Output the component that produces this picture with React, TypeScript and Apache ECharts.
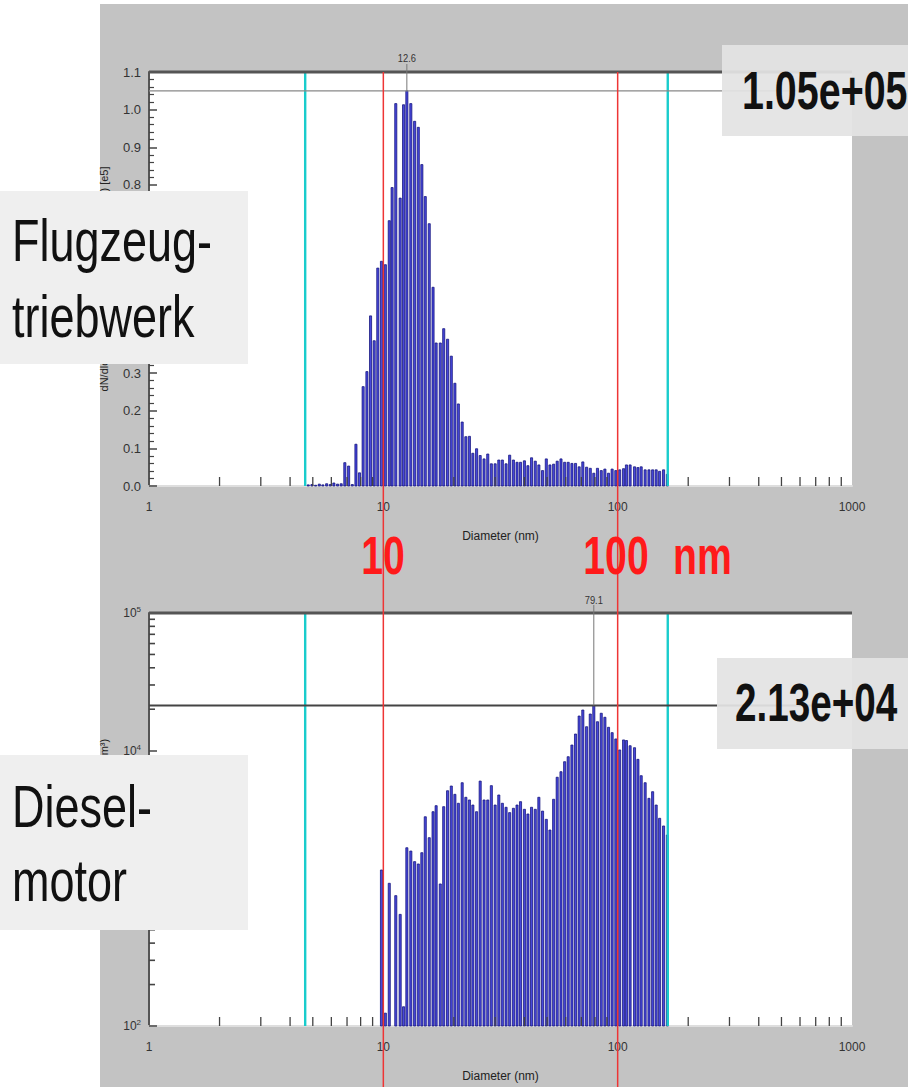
import React, { useEffect, useRef } from 'react';
import * as echarts from 'echarts';

// Size channel midpoints (nm), 64 channels per decade, channels 43..141
const DIAMETERS = [
  4.78, 4.96, 5.14, 5.33, 5.52, 5.73, 5.94, 6.15, 6.38, 6.61, 6.85, 7.11, 7.37, 7.64, 7.91, 8.2, 8.51, 8.82, 9.14, 9.47, 9.82,
  10.2, 10.6, 10.9, 11.3, 11.8, 12.2, 12.6, 13.1, 13.6, 14.1, 14.6, 15.1, 15.7, 16.3, 16.8, 17.5, 18.1, 18.8, 19.5, 20.2,
  20.9, 21.7, 22.5, 23.3, 24.1, 25.0, 25.9, 26.9, 27.9, 28.9, 30.0, 31.1, 32.2, 33.4, 34.6, 35.9, 37.2, 38.5, 40.0, 41.4,
  42.9, 44.5, 46.1, 47.8, 49.6, 51.4, 53.3, 55.2, 57.3, 59.4, 61.5, 63.8, 66.1, 68.5, 71.0, 73.7, 76.4, 79.1, 82.0, 85.1,
  88.2, 91.4, 94.7, 98.2, 102, 106, 109, 113, 118, 122, 126, 131, 136, 141, 146, 151, 157, 163,
];

// Aircraft engine (Flugzeugtriebwerk), dN/dlogDp in units of 1e5, channels 43..141
const TOP_VALUES = [
  0.003, 0.004, 0.002, 0.005, 0.003, 0.006, 0.004, 0.008, 0.005, 0.006,
  0.062, 0.053, 0.004, 0.111, 0.035, 0.264, 0.304, 0.452, 0.386, 0.579,
  0.597, 0.588, 0.705, 0.793, 1.016, 0.765, 1.013, 1.05, 1.016, 0.969,
  0.953, 0.854, 0.769, 0.697, 0.528, 0.38, 0.38, 0.418, 0.39, 0.345,
  0.273, 0.218, 0.17, 0.131, 0.132, 0.087, 0.099, 0.081, 0.072, 0.085,
  0.059, 0.059, 0.069, 0.069, 0.059, 0.082, 0.069, 0.063, 0.063, 0.067,
  0.054, 0.075, 0.066, 0.056, 0.041, 0.072, 0.056, 0.058, 0.066, 0.072,
  0.063, 0.063, 0.06, 0.06, 0.051, 0.064, 0.05, 0.047, 0.034, 0.047,
  0.041, 0.045, 0.034, 0.045, 0.041, 0.043, 0.046, 0.056, 0.056, 0.051,
  0.049, 0.051, 0.043, 0.043, 0.043, 0.043, 0.039, 0.043, 0.031,
];

// Diesel engine (Dieselmotor), dN/dlogDp (#/cm3), channels 63..141
const BOTTOM_START = 20; // index into DIAMETERS (channel 63)
const BOTTOM_VALUES = [
  1359, 124, 1088, null, 885, 647, 138,
  1972, 1866, 1563, 1503, 1815, 3311, 2333, 3603, 3985, 1076,
  3919, 5117, 5535, 4818, 4148, 5851, 4585, 4383, 4029, 3603,
  6013, 4383, 4383, 5570, 4029, 4765, 4148, 3880, 3548, 3814,
  4029, 4262, 3750, 3467, 3880, 3750, 4585, 3640, 3170, 2652,
  4435, 6411, 7035, 8315, 9040, 10990, 13210, 17850, 19740, 14930,
  18460, 21300, 16230, 18700, 17480, 14780, 13520, 12170, 10120, 11970,
  11850, 10860, 10510, 8650, 6580, 5851, 4505, 5035, 4029, 3226,
  2838, 2440,
];

const TOP_PEAK = [12.6, 1.05];
const BOTTOM_PEAK = [79.1, 21300];
const TOP_PEAK_LABEL = '1.05e+05';
const BOTTOM_PEAK_LABEL = '2.13e+04';
const CUTOFF_LINES = [4.64, 163.6];
const RED_LINES = [10, 100];
const MINOR_X = [2, 3, 4, 5, 6, 7, 8, 9, 20, 30, 40, 50, 60, 70, 80, 90, 200, 300, 400, 500, 600, 700, 800, 900];
const MINOR_Y_LOG = [200, 300, 400, 500, 600, 700, 800, 900, 2000, 3000, 4000, 5000, 6000, 7000, 8000, 9000, 20000, 30000, 40000, 50000, 60000, 70000, 80000, 90000];

const FONT = "'Liberation Sans', Arial, Helvetica, sans-serif";

export default function App() {
  const ref = useRef<HTMLDivElement>(null);

  useEffect(() => {
    const chart = echarts.init(ref.current as HTMLDivElement, null, { renderer: 'svg' });

    const barRender = (yBase: number) => (params: any, api: any) => {
      const x = api.value(0);
      const v = api.value(1);
      const top = api.coord([x, v]);
      const base = api.coord([x, yBase]);
      return {
        type: 'rect',
        shape: { x: top[0] - 1.05, y: top[1], width: 2.1, height: Math.max(base[1] - top[1], 0.8) },
        style: { fill: '#4848dc', stroke: '#10107a', lineWidth: 0.75 },
      };
    };

    const xTickRender = (yBase: number) => (params: any, api: any) => {
      const p = api.coord([api.value(0), yBase]);
      return {
        type: 'line',
        shape: { x1: p[0], y1: p[1], x2: p[0], y2: p[1] - 9 },
        style: { stroke: '#444', lineWidth: 1.3 },
      };
    };

    const yLogTickRender = (params: any, api: any) => {
      const cs = params.coordSys;
      const p = api.coord([1, api.value(1)]);
      return {
        type: 'line',
        shape: { x1: cs.x, y1: p[1], x2: cs.x + 6, y2: p[1] },
        style: { stroke: '#444', lineWidth: 1.6 },
      };
    };

    const vLineRender = (color: string, width: number, toBottom?: number) => (params: any, api: any) => {
      const cs = params.coordSys;
      const p = api.coord([api.value(0), api.value(1)]);
      return {
        type: 'line',
        shape: { x1: p[0], y1: cs.y, x2: p[0], y2: toBottom !== undefined ? toBottom : cs.y + cs.height },
        style: { stroke: color, lineWidth: width },
      };
    };

    const peakRender = (hColor: string, hWidth: number, labelGap: number) => (params: any, api: any) => {
      const cs = params.coordSys;
      const d = api.value(0);
      const v = api.value(1);
      const p = api.coord([d, v]);
      return {
        type: 'group',
        children: [
          { type: 'line', shape: { x1: cs.x, y1: cs.y, x2: cs.x + cs.width, y2: cs.y }, style: { stroke: '#555', lineWidth: 3.2 } },
          { type: 'line', shape: { x1: cs.x, y1: p[1], x2: cs.x + cs.width, y2: p[1] }, style: { stroke: hColor, lineWidth: hWidth } },
          { type: 'line', shape: { x1: p[0], y1: cs.y - 8, x2: p[0], y2: p[1] }, style: { stroke: '#777', lineWidth: 1 } },
          {
            type: 'text', x: p[0], y: cs.y - labelGap, scaleX: 0.85,
            style: { text: d.toFixed(1), fill: '#333', font: `11px ${FONT}`, align: 'center', textAlign: 'center', verticalAlign: 'middle', textVerticalAlign: 'middle' },
          },
        ],
      };
    };

    const topBars = DIAMETERS.map((d, k) => [d, TOP_VALUES[k]]);
    const bottomBars = BOTTOM_VALUES.map((v, k) => [DIAMETERS[BOTTOM_START + k], v]).filter((p) => p[1] !== null);

    const yName = (text: string) => ({
      name: text,
      nameLocation: 'middle',
      nameGap: 40,
      nameRotate: 90,
      nameTextStyle: { fontSize: 11, color: '#222', fontFamily: FONT },
    });

    const xAxisCommon = (gridIndex: number) => ({
      type: 'log',
      gridIndex,
      logBase: 10,
      min: 1,
      max: 1000,
      name: 'Diameter (nm)',
      nameLocation: 'middle',
      nameGap: 44,
      nameTextStyle: { fontSize: 12, color: '#222', fontFamily: FONT },
      axisLine: { show: true, lineStyle: { color: '#dedede', width: 2 } },
      axisTick: { show: false },
      splitLine: { show: false },
      minorTick: { show: false },
      axisLabel: { fontSize: 12, color: '#333', margin: 15, fontFamily: FONT, formatter: (v: number) => String(Math.round(v)) },
    });

    const textEl = (text: string, x: number, y: number, size: number, opts: any = {}) => ({
      type: 'text',
      x,
      y,
      z: 110,
      scaleX: opts.scaleX ?? 0.75,
      style: {
        text,
        fill: opts.fill ?? '#111',
        font: `${opts.bold ? 'bold ' : ''}${size}px ${FONT}`,
        align: opts.align ?? 'left',
        textAlign: opts.align ?? 'left',
        verticalAlign: 'middle',
        textVerticalAlign: 'middle',
      },
    });

    const option: any = {
      animation: false,
      backgroundColor: 'transparent',
      grid: [
        { left: 149, top: 72, width: 703, height: 414, show: true, backgroundColor: '#ffffff', borderWidth: 0 },
        { left: 149, top: 613, width: 703, height: 413, show: true, backgroundColor: '#ffffff', borderWidth: 0 },
      ],
      xAxis: [xAxisCommon(0), xAxisCommon(1)],
      yAxis: [
        {
          type: 'value',
          gridIndex: 0,
          min: 0,
          max: 1.1,
          interval: 0.1,
          ...yName('dN/dlogDp Number Concentration (#/cm³) [e5]'),
          axisLine: { show: true, lineStyle: { color: '#555', width: 2 } },
          axisTick: { show: true, inside: true, length: 8, lineStyle: { color: '#444', width: 1.5 } },
          minorTick: { show: true, splitNumber: 5, length: 5, lineStyle: { color: '#444', width: 1.2 } },
          splitLine: { show: false },
          axisLabel: { fontSize: 13, color: '#333', margin: 8, fontFamily: FONT, formatter: (v: number) => v.toFixed(1) },
        },
        {
          type: 'log',
          gridIndex: 1,
          logBase: 10,
          min: 100,
          max: 100000,
          ...yName('dN/dlogDp Concentration (#/cm³)'),
          axisLine: { show: true, lineStyle: { color: '#555', width: 2 } },
          axisTick: { show: true, inside: true, length: 8, lineStyle: { color: '#444', width: 1.5 } },
          splitLine: { show: false },
          axisLabel: {
            margin: 8,
            formatter: (v: number) => `{b|10}{s|${Math.round(Math.log10(v))}}`,
            rich: {
              b: { fontSize: 12, color: '#333', fontFamily: FONT },
              s: { fontSize: 8, color: '#333', fontFamily: FONT, padding: [0, 0, 7, 0] },
            },
          },
        },
      ],
      series: [
        { type: 'custom', xAxisIndex: 0, yAxisIndex: 0, z: 2, renderItem: barRender(0), data: topBars },
        { type: 'custom', xAxisIndex: 1, yAxisIndex: 1, z: 2, renderItem: barRender(100), data: bottomBars },
        { type: 'custom', xAxisIndex: 0, yAxisIndex: 0, z: 3, renderItem: vLineRender('#19cccc', 2.4), data: CUTOFF_LINES.map((d) => [d, 0.5]) },
        { type: 'custom', xAxisIndex: 1, yAxisIndex: 1, z: 3, renderItem: vLineRender('#19cccc', 2.4), data: CUTOFF_LINES.map((d) => [d, 1000]) },
        { type: 'custom', xAxisIndex: 0, yAxisIndex: 0, z: 5, renderItem: peakRender('#888', 1.2, 14), data: [TOP_PEAK] },
        { type: 'custom', xAxisIndex: 1, yAxisIndex: 1, z: 5, renderItem: peakRender('#444', 2, 13), data: [BOTTOM_PEAK] },
        { type: 'custom', xAxisIndex: 0, yAxisIndex: 0, z: 6, renderItem: xTickRender(0), data: MINOR_X.map((d) => [d, 0]) },
        { type: 'custom', xAxisIndex: 1, yAxisIndex: 1, z: 6, renderItem: xTickRender(100), data: MINOR_X.map((d) => [d, 100]) },
        { type: 'custom', xAxisIndex: 1, yAxisIndex: 1, z: 6, renderItem: yLogTickRender, data: MINOR_Y_LOG.map((v) => [1, v]) },
        { type: 'custom', xAxisIndex: 0, yAxisIndex: 0, z: 7, renderItem: vLineRender('#ee3535', 1.5, 1087), data: RED_LINES.map((d) => [d, 0.5]) },
      ],
      graphic: [
        { type: 'rect', z: 100, shape: { x: 0, y: 191, width: 248, height: 173 }, style: { fill: '#efefef' } },
        textEl('Flugzeug-', 12, 240, 60),
        textEl('triebwerk', 12, 316, 60),
        { type: 'rect', z: 100, shape: { x: 0, y: 755, width: 248, height: 175 }, style: { fill: '#efefef' } },
        textEl('Diesel-', 12, 806, 60),
        textEl('motor', 12, 880, 60),
        { type: 'rect', z: 100, shape: { x: 722, y: 45, width: 186, height: 91 }, style: { fill: '#e3e3e3', opacity: 0.93 } },
        textEl(TOP_PEAK_LABEL, 742, 90, 54, { bold: true, scaleX: 0.73 }),
        { type: 'rect', z: 100, shape: { x: 717, y: 658, width: 191, height: 91 }, style: { fill: '#e3e3e3', opacity: 0.93 } },
        textEl(BOTTOM_PEAK_LABEL, 735, 703, 53, { bold: true, scaleX: 0.73 }),
        textEl('10', 383, 556, 53, { bold: true, scaleX: 0.74, align: 'center', fill: '#ff1a1a' }),
        textEl('100', 616, 556, 53, { bold: true, scaleX: 0.74, align: 'center', fill: '#ff1a1a' }),
        textEl('nm', 673, 556, 53, { bold: true, scaleX: 0.74, fill: '#ff1a1a' }),
      ],
    };

    chart.setOption(option);
    return () => chart.dispose();
  }, []);

  return (
    <div style={{ position: 'fixed', left: 0, top: 0, width: 908, height: 1087, background: '#ffffff', overflow: 'hidden' }}>
      <div style={{ position: 'absolute', left: 100, top: 4, right: 0, bottom: 0, background: '#c3c3c3' }} />
      <div ref={ref} style={{ position: 'absolute', left: 0, top: 0, width: 908, height: 1087 }} />
    </div>
  );
}
